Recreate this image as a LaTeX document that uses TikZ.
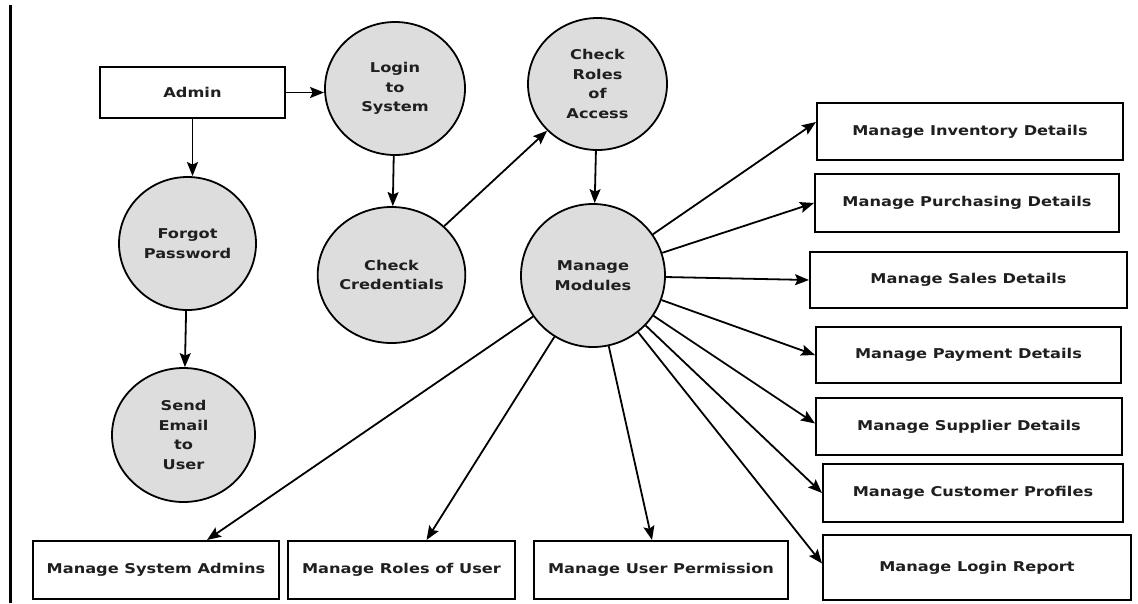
\documentclass[tikz,border=0pt]{standalone}
\usepackage{fontspec}
\newfontfamily\lblfont{DejaVu Sans}[FakeStretch=1.2]
\usetikzlibrary{arrows.meta,shapes.geometric,calc}
\definecolor{procfill}{RGB}{221,221,221}
\begin{document}
\begin{tikzpicture}[x=1pt,y=-1pt,
  every node/.style={font=\lblfont\bfseries\fontsize{13.5}{19.5}\selectfont, align=center, inner sep=0pt, text=black!88},
  ent/.style={draw, line width=2pt, rectangle},
  proc/.style={draw, line width=1.8pt, ellipse, fill=procfill},
  flow/.style={line width=1.8pt, -{Stealth[length=14pt,width=11pt,inset=2.5pt]}}]
\useasboundingbox (0,0) rectangle (1138,603);
\fill[white] (0,0) rectangle (1138,603);
\draw[line width=3pt] (10,5) -- (10,603);

% entities
\node[ent, minimum width=185pt, minimum height=51pt] (admin) at (192.5,92.5) {Admin};

% processes
\node[proc, minimum width=140pt, minimum height=133pt] (login) at (395,88.5) {Login\\to\\System};
\node[proc, minimum width=137pt, minimum height=133pt] (forgot) at (187.5,243.5) {Forgot\\Password};
\node[proc, minimum width=143pt, minimum height=134pt] (send) at (183.5,435) {Send\\Email\\to\\User};
\node[proc, minimum width=143pt, minimum height=136pt] (cc) at (391.5,275) {Check\\Credentials};
\node[proc, minimum width=139pt, minimum height=132pt] (cr) at (597.5,84) {Check\\Roles\\of\\Access};
\node[proc, minimum width=144pt, minimum height=143pt] (mm) at (593,275.5) {Manage\\Modules};

% right column
\node[ent, minimum width=306pt, minimum height=57pt] (inv) at (970,131.5) {Manage Inventory Details};
\node[ent, minimum width=304pt, minimum height=58pt] (pur) at (967,203) {Manage Purchasing Details};
\node[ent, minimum width=317pt, minimum height=56pt] (sal) at (968.5,280) {Manage Sales Details};
\node[ent, minimum width=305pt, minimum height=56pt] (pay) at (968.5,355) {Manage Payment Details};
\node[ent, minimum width=306pt, minimum height=57pt] (sup) at (969,426.5) {Manage Supplier Details};
\node[ent, minimum width=300pt, minimum height=58pt] (cus) at (973,493) {Manage Customer Profiles};
\node[ent, minimum width=308pt, minimum height=65pt] (rep) at (977,567.5) {Manage Login Report};

% bottom row
\node[ent, minimum width=246pt, minimum height=58pt] (sa) at (156,570) {Manage System Admins};
\node[ent, minimum width=227pt, minimum height=58pt] (ru) at (401.5,570) {Manage Roles of User};
\node[ent, minimum width=254pt, minimum height=58pt] (up) at (661,570) {Manage User Permission};

% flows
\draw[flow] (admin.east) -- (admin.east -| login.west);
\draw[flow] (admin.south) -- (admin.south |- forgot.north);
\draw[flow] (forgot) -- (send);
\draw[flow] (login) -- (cc);
\draw[flow] (cc) -- (cr);
\draw[flow] (cr) -- (mm);

\draw[flow] (mm) -- ([yshift=9.5pt]inv.west);
\draw[flow] (mm) -- (pur.west);
\draw[flow] (mm) -- (sal.west);
\draw[flow] (mm) -- (pay.west);
\draw[flow] (mm) -- ([yshift=3pt]sup.west);
\draw[flow] (mm) -- (cus.west);
\draw[flow] (mm) -- ([yshift=4pt]rep.west);
\draw[flow] (mm) -- ([xshift=51pt]sa.north);
\draw[flow] (mm) -- ([xshift=25pt]ru.north);
\draw[flow] (mm) -- ([xshift=-9pt]up.north);
\end{tikzpicture}
\end{document}
